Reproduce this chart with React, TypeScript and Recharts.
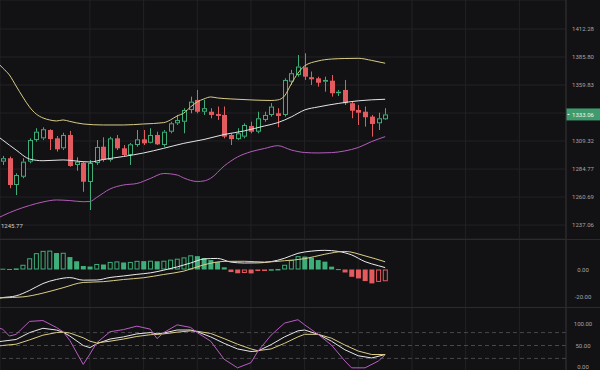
import React from 'react';
import { ComposedChart, Bar, Line, XAxis, YAxis, CartesianGrid, ReferenceLine } from 'recharts';

// candles (index 0..57)
const OPEN = [1291.2, 1294.2, 1271.0, 1278.1, 1291.2, 1310.2, 1311.7, 1319.1, 1311.7, 1302.9, 1314.7, 1288.3, 1290.3, 1273.6, 1290.0, 1304.3, 1292.7, 1311.7, 1302.9, 1297.0, 1305.8, 1310.8, 1307.8, 1314.7, 1305.8, 1317.6, 1325.1, 1326.5, 1337.1, 1346.2, 1335.5, 1335.5, 1333.4, 1332.6, 1314.7, 1311.0, 1313.2, 1322.7, 1317.6, 1328.1, 1332.6, 1334.1, 1332.6, 1362.9, 1369.1, 1376.2, 1367.0, 1366.0, 1362.9, 1363.8, 1352.3, 1355.3, 1343.2, 1337.1, 1335.5, 1331.1, 1325.1, 1328.7];
const HIGH = [1296.2, 1295.6, 1281.1, 1294.2, 1311.7, 1320.7, 1321.5, 1319.8, 1313.8, 1316.7, 1318.3, 1295.1, 1291.2, 1292.7, 1310.2, 1312.6, 1313.1, 1314.7, 1305.8, 1307.6, 1319.1, 1319.1, 1320.7, 1317.6, 1319.1, 1326.5, 1332.6, 1338.7, 1349.2, 1355.3, 1346.2, 1338.7, 1340.2, 1340.2, 1316.2, 1320.7, 1325.1, 1326.5, 1335.5, 1335.5, 1343.3, 1338.7, 1366.0, 1373.8, 1387.7, 1389.3, 1372.3, 1367.5, 1367.5, 1369.1, 1355.3, 1364.5, 1344.6, 1341.6, 1340.2, 1332.6, 1334.6, 1338.7];
const LOW = [1288.3, 1268.2, 1262.4, 1276.8, 1289.8, 1308.7, 1310.2, 1301.4, 1300.0, 1301.4, 1286.8, 1283.3, 1265.2, 1249.7, 1288.3, 1291.2, 1291.2, 1301.4, 1295.6, 1288.3, 1304.3, 1305.8, 1307.3, 1305.8, 1304.3, 1316.2, 1323.6, 1316.2, 1334.1, 1334.1, 1332.6, 1329.6, 1328.1, 1311.7, 1305.8, 1310.2, 1311.7, 1316.2, 1316.2, 1326.5, 1331.1, 1321.6, 1331.1, 1359.8, 1367.5, 1364.5, 1359.8, 1358.3, 1353.7, 1349.2, 1349.8, 1341.6, 1329.6, 1323.6, 1322.1, 1313.2, 1319.1, 1328.1];
const CLOSE = [1294.2, 1271.0, 1279.6, 1291.2, 1310.2, 1317.6, 1319.8, 1311.0, 1302.0, 1314.7, 1287.4, 1291.2, 1273.8, 1290.0, 1304.1, 1292.7, 1311.7, 1302.9, 1297.0, 1306.4, 1310.8, 1307.3, 1314.7, 1306.4, 1317.6, 1325.1, 1328.1, 1337.1, 1344.6, 1335.5, 1338.7, 1332.6, 1331.7, 1313.2, 1311.0, 1316.2, 1323.6, 1317.6, 1329.6, 1332.6, 1340.2, 1331.7, 1364.5, 1370.7, 1376.9, 1367.5, 1365.1, 1361.9, 1364.5, 1352.3, 1353.7, 1343.2, 1336.4, 1334.6, 1330.5, 1324.5, 1329.6, 1333.06];

const LAST_PRICE = 1333.06;
const LOW_MARK = 1245.77;
const PRICE_TICKS = [1237.06, 1260.69, 1284.77, 1309.32, 1334.34, 1359.83, 1385.8, 1412.28];
const HIDDEN_TICK = 1334.34; // covered by the last price tag

// bollinger bands: [candle index, price]
const BB_UPPER = [[-1, 1382.1], [0, 1375.6], [1, 1369.1], [2, 1358.9], [3, 1348.9], [4, 1339.8], [5, 1333.4], [6, 1329.9], [7, 1328.1], [8, 1327.2], [9, 1328.1], [10, 1326.8], [12, 1324.5], [15, 1323.6], [18, 1323.6], [21, 1324.5], [24, 1325.7], [25, 1328.1], [26, 1331.7], [27, 1334.3], [28, 1339.8], [29, 1344.4], [30, 1347.1], [31, 1348.9], [32, 1348.0], [34, 1347.1], [37, 1346.2], [40, 1345.7], [41, 1346.2], [42, 1349.8], [43, 1360.8], [44, 1370.7], [45, 1377.5], [47, 1382.1], [49, 1383.9], [51, 1384.4], [53, 1384.6], [55, 1382.6], [57, 1380.0]];
const BB_MID = [[-1, 1314.7], [0, 1310.2], [2, 1301.4], [4, 1293.5], [6, 1292.0], [9, 1292.7], [12, 1291.2], [13, 1290.9], [15, 1293.1], [18, 1295.7], [21, 1298.8], [24, 1302.9], [27, 1307.3], [30, 1310.7], [33, 1315.1], [36, 1318.3], [39, 1322.7], [41, 1325.7], [43, 1330.8], [45, 1337.1], [47, 1339.8], [50, 1343.0], [53, 1345.4], [57, 1346.8]];
const BB_LOWER = [[-1, 1242.1], [0, 1244.9], [2, 1249.7], [4, 1253.5], [6, 1256.5], [8, 1258.2], [10, 1257.7], [12, 1256.7], [13, 1256.9], [14, 1260.3], [16, 1267.6], [18, 1271.0], [20, 1272.3], [22, 1276.6], [24, 1280.9], [26, 1279.6], [27, 1277.0], [29, 1274.0], [30, 1274.5], [31, 1276.8], [33, 1287.4], [35, 1295.3], [37, 1299.9], [39, 1302.7], [41, 1305.2], [43, 1301.4], [45, 1299.2], [47, 1298.8], [49, 1299.1], [51, 1300.6], [53, 1303.6], [55, 1308.9], [57, 1313.2]];

// MACD
const MACD_HIST = [0.6, 0.4, 0.8, 3.5, 8.3, 12.1, 13.8, 14.0, 12.2, 12.4, 9.2, 6.1, 2.6, 2.2, 4.1, 3.7, 5.6, 6.0, 5.2, 5.6, 6.4, 6.2, 6.5, 6.1, 6.5, 7.3, 8.0, 9.0, 10.5, 9.9, 8.5, 7.0, 5.6, 1.6, -1.9, -2.8, -2.6, -2.9, -0.6, -0.3, 0.2, 0.4, 3.5, 7.0, 9.9, 9.6, 8.7, 7.0, 5.8, 2.1, 0.3, -2.2, -5.4, -6.6, -8.6, -10.3, -9.2, -8.7];
const DIF = [[-1, -21.5], [0, -20.8], [2, -19.5], [4, -15.5], [6, -10.4], [8, -7.4], [10, -6.0], [12, -7.9], [14, -7.8], [16, -5.9], [18, -4.8], [20, -3.6], [22, -2.5], [24, -0.5], [26, 1.9], [28, 4.8], [30, 7.8], [32, 8.2], [34, 5.5], [36, 4.8], [38, 4.9], [40, 5.8], [42, 8.3], [44, 12.0], [46, 13.6], [48, 14.2], [50, 13.4], [52, 10.8], [54, 5.8], [56, 2.8], [57, 1.4]];
const DEA = [[-1, -21.3], [0, -21.0], [3, -20.3], [6, -17.5], [9, -13.5], [12, -9.6], [15, -9.0], [18, -7.4], [21, -6.1], [24, -3.7], [27, -1.2], [30, 3.5], [33, 6.0], [36, 6.1], [39, 5.5], [42, 6.5], [45, 8.0], [48, 11.3], [51, 13.4], [54, 10.1], [57, 5.7]];
const MACD_TICKS = [-20, 0];

// KDJ
const K_LINE = [[-1, 58], [0, 60], [2, 64], [4, 80], [6, 90], [8, 86], [9, 81], [10, 72], [12, 50], [13, 45], [14, 54], [16, 65], [18, 70], [20, 77], [22, 80], [23, 77], [24, 79], [26, 86], [28, 86], [29, 82], [31, 70], [33, 55], [35, 42], [37, 36], [38, 37], [40, 52], [42, 70], [44, 84], [45, 86], [47, 76], [49, 60], [51, 40], [53, 26], [55, 21], [57, 29]];
const D_LINE = [[-1, 48], [0, 50], [2, 53], [4, 63], [6, 74], [8, 80], [9, 81], [10, 79], [12, 68], [13, 60], [14, 56], [16, 60], [18, 65], [20, 71], [22, 75], [23, 76], [24, 77], [26, 81], [28, 84], [29, 83], [31, 78], [33, 66], [35, 53], [37, 42], [38, 38], [40, 42], [42, 55], [44, 70], [45, 76], [47, 76], [49, 67], [51, 51], [53, 37], [55, 29], [57, 29]];
const J_LINE = [[-1, 92], [0, 88], [1, 72], [2, 76], [4, 106], [6, 108], [8, 92], [9, 82], [10, 62], [12, 6], [13, 30], [14, 56], [16, 82], [18, 87], [20, 95], [22, 88], [23, 66], [24, 80], [26, 98], [28, 92], [29, 80], [31, 60], [33, 18], [35, -2], [37, 10], [38, 36], [40, 74], [42, 102], [44, 110], [45, 98], [47, 76], [49, 51], [51, 14], [52, -2], [54, -2], [56, 14], [57, 28]];
const KDJ_TICKS = [0, 50, 100];
const KDJ_LEVELS = [20, 50, 80];

const GRID_X = [13, 21, 29, 37, 45, 53, 61, 69, 77];
const X_DOMAIN = [-0.4, 83.95];

const BG = '#121214';
const GRID = '#222227';
const AXIS = '#2e2e33';
const TICK = '#a3a3a9';
const GREEN = '#3fae79';
const RED = '#e35b5e';
const FONT = 'Roboto, sans-serif';

const candles = OPEN.map((o, i) => ({ i, o, h: HIGH[i], l: LOW[i], c: CLOSE[i], range: [LOW[i], HIGH[i]] }));
const hist = MACD_HIST.map((v, i) => ({ i, v, prev: i > 0 ? MACD_HIST[i - 1] : v }));
const pts = (arr: number[][]) => arr.map(([i, v]) => ({ i, v }));

const Candle = (props: any) => {
  const { x, width, y, height, payload } = props;
  if (!payload) return null;
  const { o, h, l, c } = payload;
  const top = Math.min(y, y + height);
  const span = Math.abs(height);
  const lh = Math.log(h);
  const ll = Math.log(l);
  const yOf = (p: number) => top + (span * (lh - Math.log(p))) / (lh - ll || 1);
  const up = c >= o;
  const color = up ? GREEN : RED;
  const cx = Math.round(x + width / 2) + 0.5;
  const bTop = yOf(Math.max(o, c));
  const bBot = Math.max(yOf(Math.min(o, c)), bTop + 1);
  if (up) {
    return (
      <g>
        <line x1={cx} x2={cx} y1={top} y2={bTop} stroke={color} />
        <line x1={cx} x2={cx} y1={bBot} y2={top + span} stroke={color} />
        <rect x={cx - 2} y={bTop + 0.5} width={4} height={Math.max(bBot - bTop - 1, 0.5)} fill={BG} stroke={color} />
      </g>
    );
  }
  return (
    <g>
      <line x1={cx} x2={cx} y1={top} y2={top + span} stroke={color} />
      <rect x={cx - 2.5} y={bTop} width={5} height={bBot - bTop} fill={color} />
    </g>
  );
};

const HistBar = (props: any) => {
  const { x, y, width, height, payload } = props;
  if (!payload) return null;
  const top = Math.min(y, y + height);
  const h = Math.max(Math.abs(height), 1);
  const color = payload.v >= 0 ? GREEN : RED;
  const hollow = payload.v > payload.prev;
  if (hollow) {
    return <rect x={x + 0.5} y={top + 0.5} width={width - 1} height={Math.max(h - 1, 0.5)} fill={BG} stroke={color} />;
  }
  return <rect x={x} y={top} width={width} height={h} fill={color} />;
};

const AxisTick = (props: any) => {
  const { x, y, payload } = props;
  if (payload.value === HIDDEN_TICK) return <g />;
  return (
    <text x={x + 17} y={y} dy="0.35em" textAnchor="middle" fontSize={6} fontFamily={FONT} fill={TICK}>
      {Number(payload.value).toFixed(2)}
    </text>
  );
};

const PriceTag = (props: any) => {
  const vb = props.viewBox;
  if (!vb) return null;
  const left = vb.x + vb.width;
  return (
    <g>
      <rect x={left} y={vb.y - 6} width={34} height={12} fill="#3d9b6d" />
      <line x1={left + 1.5} x2={left + 3.5} y1={vb.y} y2={vb.y} stroke="#e8f5ee" />
      <text x={left + 17} y={vb.y} dy="0.35em" textAnchor="middle" fontSize={6} fontFamily={FONT} fill="#eef7f2">
        {LAST_PRICE.toFixed(2)}
      </text>
    </g>
  );
};

const LowTag = (props: any) => {
  const vb = props.viewBox;
  if (!vb) return null;
  return (
    <text x={vb.x + 1} y={vb.y + 11} dy="0.35em" textAnchor="start" fontSize={6} fontFamily={FONT} fill="#cfcfd4">
      {LOW_MARK.toFixed(2)}
    </text>
  );
};

const yAxisProps = {
  orientation: 'right' as const,
  width: 34,
  type: 'number' as const,
  allowDataOverflow: true,
  interval: 0,
  tickLine: false,
  tickSize: 0,
  tickMargin: 0,
  axisLine: { stroke: AXIS },
  tick: (p: any) => <AxisTick {...p} />,
};

const xAxis = (
  <XAxis type="number" dataKey="i" domain={X_DOMAIN} allowDataOverflow ticks={GRID_X} hide />
);

const Sep = () => <div style={{ height: 1, background: '#2a2a2f' }} />;

const App: React.FC = () => {
  const margin = { top: 0, right: 0, bottom: 0, left: 0 };
  return (
    <div style={{ width: 600, height: 370, background: BG, overflow: 'hidden' }}>
      <style>{'body{margin:0;background:' + BG + ';}'}</style>

      {/* price + bollinger */}
      <ComposedChart width={600} height={239} data={candles} margin={margin}>
        <CartesianGrid stroke={GRID} />
        {xAxis}
        <YAxis {...yAxisProps} scale="log" domain={[1225.45, 1440.23]} ticks={PRICE_TICKS} />
        <Bar dataKey="range" barSize={5} shape={(p: any) => <Candle {...p} />} isAnimationActive={false} />
        <Line data={pts(BB_UPPER)} dataKey="v" type="monotone" stroke="#d9cc86" strokeWidth={1} dot={false} isAnimationActive={false} />
        <Line data={pts(BB_MID)} dataKey="v" type="monotone" stroke="#e4e4e6" strokeWidth={1} dot={false} isAnimationActive={false} />
        <Line data={pts(BB_LOWER)} dataKey="v" type="monotone" stroke="#b45cbc" strokeWidth={1} dot={false} isAnimationActive={false} />
        <ReferenceLine y={LAST_PRICE} strokeOpacity={0} label={(p: any) => <PriceTag {...p} />} />
        <ReferenceLine y={LOW_MARK} strokeOpacity={0} label={(p: any) => <LowTag {...p} />} />
      </ComposedChart>
      <Sep />

      {/* MACD */}
      <ComposedChart width={600} height={67} data={hist} margin={margin}>
        <CartesianGrid stroke={GRID} horizontal={false} />
        {xAxis}
        <YAxis {...yAxisProps} domain={[-27.78, 21.85]} ticks={MACD_TICKS} />
        <Bar dataKey="v" barSize={5} shape={(p: any) => <HistBar {...p} />} isAnimationActive={false} />
        <Line data={pts(DIF)} dataKey="v" type="monotone" stroke="#ececee" strokeWidth={1} dot={false} isAnimationActive={false} />
        <Line data={pts(DEA)} dataKey="v" type="monotone" stroke="#dccd86" strokeWidth={1} dot={false} isAnimationActive={false} />
      </ComposedChart>
      <Sep />

      {/* KDJ */}
      <ComposedChart width={600} height={62} margin={margin}>
        <CartesianGrid stroke={GRID} horizontal={false} />
        {xAxis}
        <YAxis {...yAxisProps} domain={[-7, 137.2]} ticks={KDJ_TICKS} />
        {KDJ_LEVELS.map((lv) => (
          <ReferenceLine key={lv} y={lv} stroke="#48484e" strokeDasharray="4 3" />
        ))}
        <Line data={pts(K_LINE)} dataKey="v" type="linear" stroke="#e6e6e8" strokeWidth={1} dot={false} isAnimationActive={false} />
        <Line data={pts(D_LINE)} dataKey="v" type="linear" stroke="#dccd86" strokeWidth={1} dot={false} isAnimationActive={false} />
        <Line data={pts(J_LINE)} dataKey="v" type="linear" stroke="#b95cc2" strokeWidth={1} dot={false} isAnimationActive={false} />
      </ComposedChart>
    </div>
  );
};

export default App;
